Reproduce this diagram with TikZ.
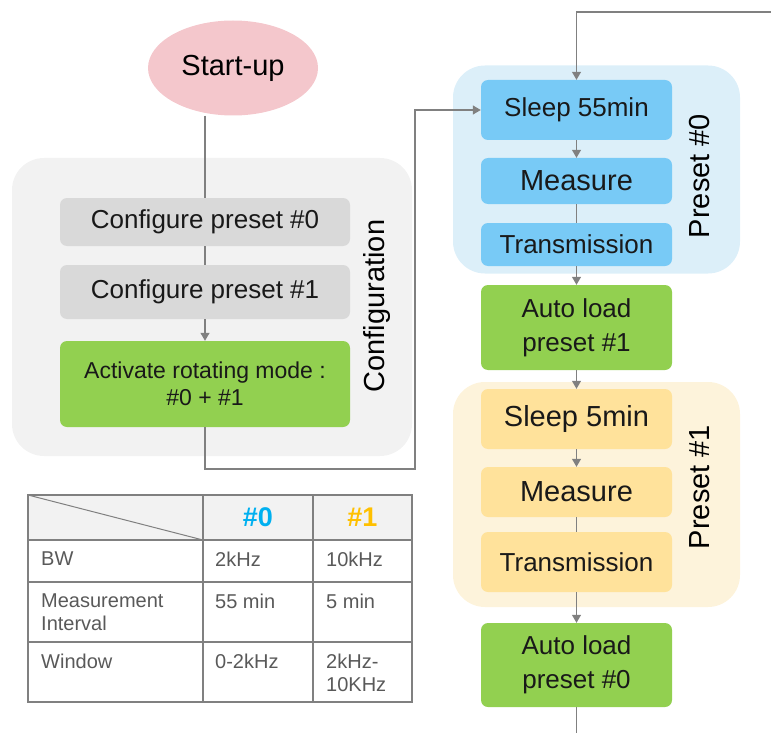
\documentclass[tikz,border=0pt]{standalone}
\usepackage{fontspec}
\setmainfont{Liberation Sans}
\usetikzlibrary{arrows.meta,shapes.geometric}

\definecolor{startpink}{HTML}{F4C7CC}
\definecolor{cfggroup}{HTML}{F2F2F2}
\definecolor{cfgbox}{HTML}{D9D9D9}
\definecolor{loadgreen}{HTML}{92D050}
\definecolor{bluegroup}{HTML}{DCEFF9}
\definecolor{bluebox}{HTML}{78CAF6}
\definecolor{yellowgroup}{HTML}{FDF3DB}
\definecolor{yellowbox}{HTML}{FFE29B}
\definecolor{linegray}{HTML}{808080}
\definecolor{tabtext}{HTML}{595959}
\definecolor{hashzero}{HTML}{00B0F0}
\definecolor{hashone}{HTML}{FFC000}

\tikzset{
  box/.style={rounded corners=7pt, align=center, inner sep=0pt, text=black!90},
  grp/.style={rounded corners=32pt, inner sep=0pt},
  link/.style={draw=linegray, line width=1.2pt},
  arr/.style={link, -{Triangle[width=9pt,length=8pt]}},
  txtL/.style={font=\fontsize{29}{34}\selectfont},
  txtM/.style={font=\fontsize{26}{34}\selectfont},
  txtS/.style={font=\fontsize{23}{27}\selectfont},
  tab/.style={font=\fontsize{20}{23}\selectfont, text=tabtext, anchor=north west, inner sep=0pt, align=left},
}

\begin{document}
\begin{tikzpicture}[x=1pt,y=-1pt]
\useasboundingbox (0,0) rectangle (771,733);

% groups
\node[grp, fill=cfggroup, minimum width=400, minimum height=298] (config) at (212,307) {};
\node[grp, fill=bluegroup, minimum width=287, minimum height=208] (presetA) at (596.5,169.5) {};
\node[grp, fill=yellowgroup, minimum width=287, minimum height=225] (presetB) at (596.5,494.5) {};
\node[txtL, rotate=90] (configlbl) at (377,306) {Configuration};
\node[txtL, rotate=90] (presetAlbl) at (700,176) {Preset \#0};
\node[txtL, rotate=90] (presetBlbl) at (700,487) {Preset \#1};

% start and configuration
\node[ellipse, fill=startpink, inner sep=0pt, minimum width=170, minimum height=95, txtL] (start) at (233,68) {Start-up};
\node[box, fill=cfgbox, minimum width=290, minimum height=48, txtM] (conf0) at (205,222) {Configure preset \#0};
\node[box, fill=cfgbox, minimum width=290, minimum height=54, txtM] (conf1) at (205,292) {Configure preset \#1};
\node[box, fill=loadgreen, minimum width=290, minimum height=86, txtS] (act) at (205,384) {Activate rotating mode :\\\#0 + \#1};

% preset #0
\node[box, fill=bluebox, minimum width=191, minimum height=60, txtM] (sleepA) at (576.5,110) {Sleep 55min};
\node[box, fill=bluebox, minimum width=191, minimum height=46, txtL] (measA) at (576.5,181) {Measure};
\node[box, fill=bluebox, minimum width=191, minimum height=43, txtM] (transA) at (576.5,244.5) {Transmission};
\node[box, fill=loadgreen, minimum width=191, minimum height=85, txtM] (autoB) at (576.5,327.5) {Auto load\\preset \#1};

% preset #1
\node[box, fill=yellowbox, minimum width=191, minimum height=60, txtL] (sleepB) at (576.5,419) {Sleep 5min};
\node[box, fill=yellowbox, minimum width=191, minimum height=50, txtL] (measB) at (576.5,492) {Measure};
\node[box, fill=yellowbox, minimum width=191, minimum height=60, txtM] (transB) at (576.5,562) {Transmission};
\node[box, fill=loadgreen, minimum width=191, minimum height=84, txtM] (autoA) at (576.5,665) {Auto load\\preset \#0};

% connectors
\coordinate (turn) at (415,469);
\coordinate (feed) at (771,12);
\coordinate (out) at (576.5,733);
\draw[link] (start.south -| conf0.north) -- (conf0.north);
\draw[link] (conf0) -- (conf1);
\draw[arr] (conf1) -- (act);
\draw[arr] (act.south) |- (turn) |- (sleepA.west);
\draw[arr] (feed) -| (sleepA.north);
\draw[arr] (sleepA) -- (measA);
\draw[link] (measA) -- (transA);
\draw[arr] (transA) -- (autoB);
\draw[arr] (autoB) -- (sleepB);
\draw[arr] (sleepB) -- (measB);
\draw[link] (measB) -- (transB);
\draw[arr] (transB) -- (autoA);
\draw[link] (autoA.south) -- (out);

% table
\fill[cfggroup] (28,495) rectangle (412,540);
\draw[linegray, line width=1.2pt] (28,495) rectangle (412,702);
\draw[linegray, line width=1.2pt] (28,540) -- (412,540) (28,582) -- (412,582) (28,642) -- (412,642)
  (203,495) -- (203,702) (313,495) -- (313,702);
\draw[linegray, line width=1pt] (28,495) -- (203,540);
\node[font=\fontsize{27}{30}\selectfont\bfseries, text=hashzero] (h0) at (258,517.5) {\#0};
\node[font=\fontsize{27}{30}\selectfont\bfseries, text=hashone] (h1) at (362.5,517.5) {\#1};
\node[tab] (bw) at (41,552) {BW};
\node[tab] (bwA) at (215,552) {2kHz};
\node[tab] (bwB) at (326,552) {10kHz};
\node[tab] (intv) at (41,594) {Measurement\\Interval};
\node[tab] (intvA) at (215,594) {55 min};
\node[tab] (intvB) at (326,594) {5 min};
\node[tab] (win) at (41,654) {Window};
\node[tab] (winA) at (215,654) {0-2kHz};
\node[tab] (winB) at (326,654) {2kHz-\\10KHz};
\end{tikzpicture}
\end{document}
